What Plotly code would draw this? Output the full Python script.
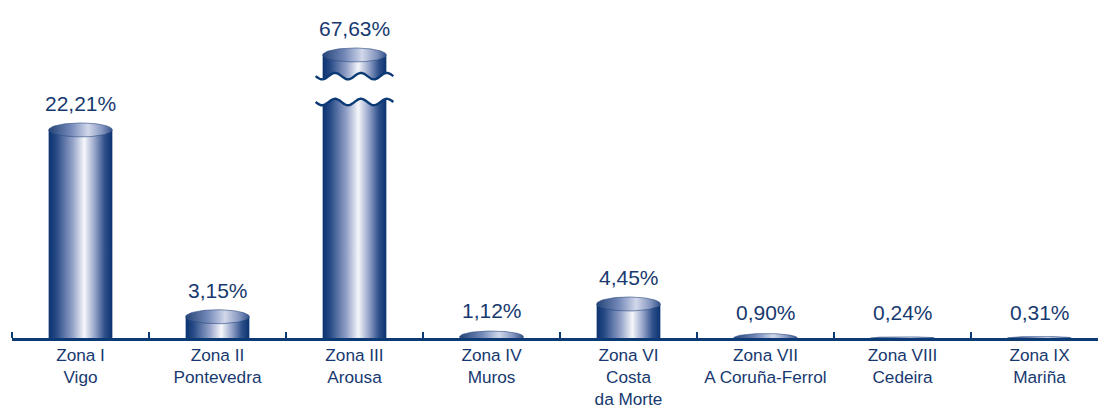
import numpy as np
import plotly.graph_objects as go

# ---------------- data ----------------
categories = ["Zona I<br>Vigo", "Zona II<br>Pontevedra", "Zona III<br>Arousa",
              "Zona IV<br>Muros", "Zona VI<br>Costa<br>da Morte",
              "Zona VII<br>A Coruña-Ferrol", "Zona VIII<br>Cedeira", "Zona IX<br>Mariña"]
values = [22.21, 3.15, 67.63, 1.12, 4.45, 0.90, 0.24, 0.31]
value_labels = [f"{v:.2f}".replace(".", ",") + "%" for v in values]

# ---------------- styling / scale constants ----------------
NAVY = "#0c3a74"
TEXT = "#17396f"
FONT = "Liberation Sans, Arial, sans-serif"
W, H = 1098, 408
ML, MR, MT, MB = 12, 0, 0, 70
PX_PER_UNIT = 9.8          # vertical pixels per percentage point
BASE = 0.98                # value at the axis line
CAP = 29.86                # displayed top of the broken bar
BREAK_LO, BREAK_HI = 25.06, 27.7
CAT_PX = 137.0
BAR_W = 0.465              # in category units
plot_h = H - MT - MB
plot_w = W - ML - MR
y_range = [BASE, BASE + plot_h / PX_PER_UNIT]
x_range = [-0.5, -0.5 + plot_w / CAT_PX]
px_x = 1.0 / CAT_PX        # one pixel in x units
px_y = 1.0 / PX_PER_UNIT   # one pixel in y units

body_scale = [[0, "#0a336f"], [0.12, "#274a86"], [0.38, "#95a3c9"], [0.56, "#f6f7fb"],
              [0.72, "#98a6ca"], [0.88, "#2f508b"], [1, "#0a336f"]]
top_scale = [[0, "#244478"], [0.35, "#7489b8"], [0.62, "#d2d8ea"], [0.85, "#8193bd"], [1, "#35528a"]]

fig = go.Figure()

for i, v in enumerate(values):
    cx = float(i)
    rx = BAR_W / 2
    broken = v > CAP
    top = min(max(v, BASE), CAP)
    ry = min(7.0, 5.0 * v) * px_y
    # cylinder body
    if top > BASE:
        xs = [cx - rx, cx - rx, cx + rx, cx + rx, cx - rx]
        ys = [BASE, top, top, BASE, BASE]
        fig.add_trace(go.Scatter(
            x=xs, y=ys, mode="lines", fill="toself", line=dict(width=0),
            fillgradient=dict(type="horizontal", colorscale=body_scale,
                              start=cx - rx, stop=cx + rx),
            hoverinfo="skip", showlegend=False))
    # break of the axis for the out-of-scale bar
    if broken:
        ext = 7 * px_x
        wx = np.linspace(cx - rx - ext, cx + rx + ext, 80)
        amp = 3.2 * px_y
        phase = (wx - wx[0]) / (wx[-1] - wx[0]) * 3 * 2 * np.pi
        wave_hi = BREAK_HI - amp * np.sin(phase)
        wave_lo = BREAK_LO - amp * np.sin(phase)
        fig.add_trace(go.Scatter(
            x=np.concatenate([wx, wx[::-1]]),
            y=np.concatenate([wave_hi, wave_lo[::-1]]),
            mode="lines", fill="toself", fillcolor="white", line=dict(width=0),
            hoverinfo="skip", showlegend=False))
        for wy in (wave_hi, wave_lo):
            fig.add_trace(go.Scatter(x=wx, y=wy, mode="lines",
                                     line=dict(color=NAVY, width=2.4, shape="spline"),
                                     hoverinfo="skip", showlegend=False))
    # top ellipse
    t = np.linspace(0, 2 * np.pi, 90)
    fig.add_trace(go.Scatter(
        x=cx + rx * np.cos(t), y=top + ry * np.sin(t), mode="lines", fill="toself",
        line=dict(width=0.6, color="#2a4a82"),
        fillgradient=dict(type="horizontal", colorscale=top_scale,
                          start=cx - rx, stop=cx + rx),
        hoverinfo="skip", showlegend=False))
    # value label
    fig.add_annotation(x=cx, y=top, text=value_labels[i], showarrow=False,
                       yshift=26, yanchor="middle",
                       font=dict(family=FONT, size=21, color=TEXT))

fig.update_layout(
    width=W, height=H, margin=dict(l=ML, r=MR, t=MT, b=MB, autoexpand=False),
    paper_bgcolor="white", plot_bgcolor="white",
    xaxis=dict(range=x_range, showgrid=False, zeroline=False, automargin=False,
               showline=True, linecolor=NAVY, linewidth=3, layer="below traces",
               tickmode="array", tickvals=list(range(len(categories))),
               ticktext=categories, ticks="", ticklabelstandoff=-1,
               tickfont=dict(family=FONT, size=17.2, color=TEXT),
               minor=dict(tickmode="array",
                          tickvals=[k - 0.5 for k in range(len(categories) + 1)],
                          ticks="inside", ticklen=6, tickwidth=2, tickcolor=NAVY,
                          showgrid=False)),
    yaxis=dict(range=y_range, visible=False, showgrid=False, zeroline=False,
               automargin=False),
    showlegend=False,
)

fig.write_html("out.html", config={"displayModeBar": False},
               post_script="document.body.style.margin='0';")
